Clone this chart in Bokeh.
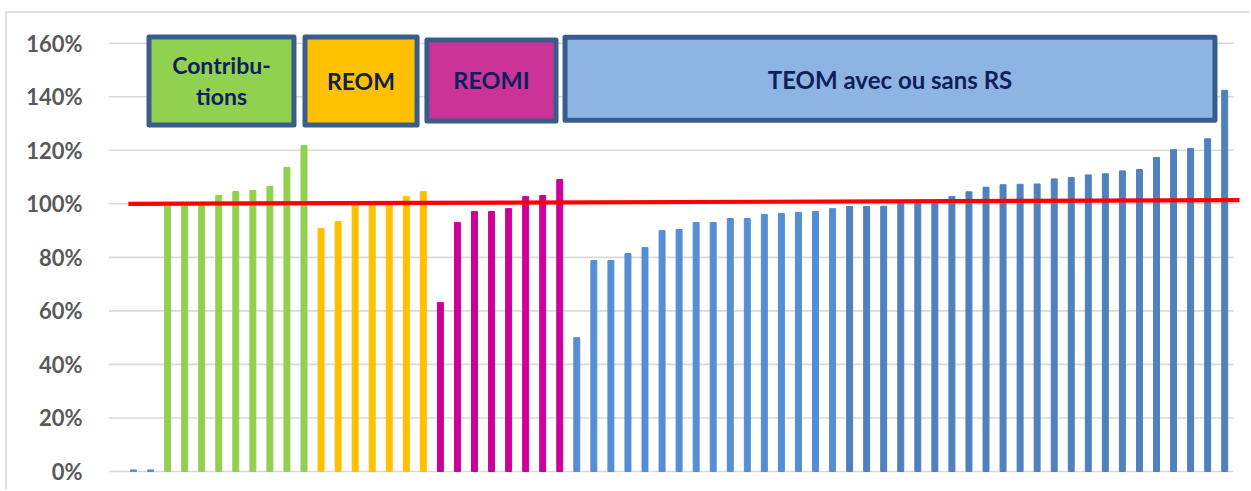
from bokeh.plotting import figure
from bokeh.models import ColumnDataSource, FixedTicker, PrintfTickFormatter
from bokeh.core.properties import value
from bokeh.embed import file_html
from bokeh.resources import INLINE

# ---- data (values in %) ----
lead_values = [0.6, 0.6]
contrib_values = [99.5, 99.6, 99.6, 103.1, 104.6, 105.0, 106.5, 113.6, 121.8]
reom_values = [90.8, 93.4, 99.8, 99.8, 100.0, 102.7, 104.6]
reomi_values = [63.1, 93.0, 97.1, 97.1, 98.2, 102.7, 103.1, 109.1]
teom_values_a = [50.0, 78.8, 78.8, 81.4, 83.7, 90.0, 90.4, 93.0, 93.0, 94.5,
                 94.5, 96.0, 96.4, 96.8, 97.1, 98.2]
teom_values_b = [99.0, 99.0, 99.1, 100.3, 100.4, 100.6, 102.7, 104.5, 106.2,
                 107.1, 107.3, 107.4, 109.3, 109.8, 110.8, 111.2, 112.3, 112.8,
                 117.3, 120.2, 120.7, 124.3, 142.4]
y_ticks = [0, 20, 40, 60, 80, 100, 120, 140, 160]
ref_line_x = [-0.3, 64.87]
ref_line_y = [100.0, 101.35]
group_labels = ["Contribu-", "tions", "REOM", "REOMI", "TEOM avec ou sans RS"]

# ---- build bar table ----
groups = [
    (lead_values, "#558ED5"),
    (contrib_values, "#92D050"),
    (reom_values, "#FFC000"),
    (reomi_values, "#CC0099"),
    (teom_values_a, "#558ED5"),
    (teom_values_b, "#4F81BD"),
]
tops, colors = [], []
for vals, col in groups:
    tops += vals
    colors += [col] * len(vals)
xs = list(range(len(tops)))
src = ColumnDataSource(dict(x=xs, top=tops, color=colors))

p = figure(width=1244, height=478, output_backend="svg", toolbar_location=None,
           x_range=(-1.466, 64.985), y_range=(-1.87, 164.74),
           x_axis_location=None, min_border_left=101, min_border_right=10,
           min_border_top=17, min_border_bottom=15)
p.styles = {"margin-left": "5px", "margin-top": "11px",
            "border-left": "2px solid #DEDEDE", "border-top": "2px solid #DEDEDE"}
p.outline_line_color = None
p.xgrid.visible = False
p.ygrid.visible = False
p.background_fill_color = "white"
p.border_fill_color = "white"

# grid lines
p.segment(x0=[-1.466] * len(y_ticks), x1=[64.52] * len(y_ticks), y0=y_ticks, y1=y_ticks,
          line_color="#D9D9D9", line_width=1.6)

# bars
p.vbar(x="x", top="top", bottom=0, width=0.35, color="color", source=src)

# reference line
p.line(ref_line_x, ref_line_y, line_color="#FF0000", line_width=4.2)

# y axis
ax = p.yaxis[0]
ax.ticker = FixedTicker(ticks=y_ticks)
ax.formatter = PrintfTickFormatter(format="%d%%")
ax.axis_line_color = None
ax.major_tick_line_color = None
ax.minor_tick_line_color = None
ax.major_tick_out = 0
ax.major_label_standoff = 26
ax.major_label_text_font = "Lato"
ax.major_label_text_font_style = "bold"
ax.major_label_text_font_size = "22px"
ax.major_label_text_color = "#595959"

# group boxes
box_l = [0.909, 10.06, 17.21, 25.31]
box_r = [9.413, 16.63, 24.78, 63.43]
box_t = [162.3, 162.3, 161.2, 162.2]
box_b = [129.4, 129.4, 130.9, 131.2]
box_fill = ["#92D050", "#FFC000", "#CC3399", "#8EB4E3"]
p.quad(left=box_l, right=box_r, top=box_t, bottom=box_b, fill_color=box_fill,
       line_color="#385D8A", line_width=5, line_join="round")

tx = [5.16, 5.16, 13.34, 21.0, 44.37]
ty = [152.0, 140.3, 145.9, 146.2, 146.6]
tsize = ["23px", "23px", "23px", "23.5px", "24px"]
p.text(x=tx, y=ty, text=group_labels, text_font=value("Lato"), text_font_style="bold",
       text_font_size=tsize, text_color="#0E1F5B", text_align="center",
       text_baseline="alphabetic")

open("out.html", "w").write(file_html(p, INLINE))
